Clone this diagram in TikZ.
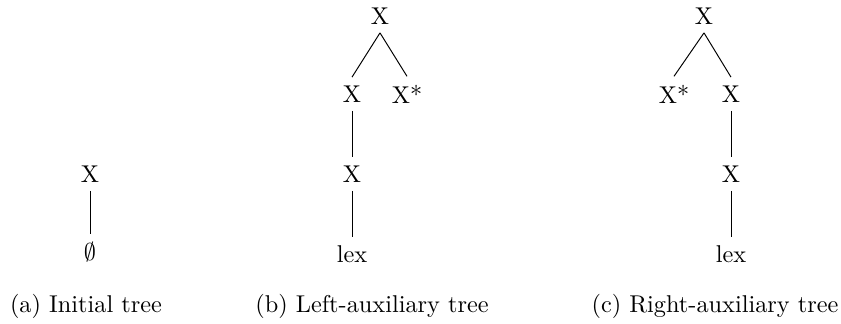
\documentclass[tikz,border=0pt]{standalone}
\begin{document}
\begin{tikzpicture}[x=0.4115pt,y=-0.4115pt,
  lbl/.style={inner sep=3.33pt},
  captext/.style={inner sep=0pt},
  br/.style={line width=0.4pt}]
\useasboundingbox (0,0) rectangle (841,323);
% (a)
\node[lbl] (a1) at (90,174) {X};
\node[lbl] (a2) at (90,252) {$\emptyset$};
\draw[br] (a1.south) -- (a2.north);
\node[captext] (ca) at (86,306) {(a) Initial tree};
% (b)
\node[lbl] (b0) at (380,16) {X};
\node[lbl] (b1) at (352,94) {X};
\node[lbl] (b2) at (407,94) {X*};
\node[lbl] (b3) at (352,174) {X};
\node[lbl] (b4) at (352,254) {lex};
\draw[br] (b0.south) -- (b1.north);
\draw[br] (b0.south) -- (b2.north);
\draw[br] (b1.south) -- (b3.north);
\draw[br] (b3.south) -- (b4.north);
\node[captext] (cb) at (372,306) {(b) Left-auxiliary tree};
% (c)
\node[lbl] (c0) at (704,16) {X};
\node[lbl] (c1) at (674,94) {X*};
\node[lbl] (c2) at (731,94) {X};
\node[lbl] (c3) at (731,174) {X};
\node[lbl] (c4) at (731,254) {lex};
\draw[br] (c0.south) -- (c1.north);
\draw[br] (c0.south) -- (c2.north);
\draw[br] (c2.south) -- (c3.north);
\draw[br] (c3.south) -- (c4.north);
\node[captext] (cc) at (715,306) {(c) Right-auxiliary tree};
\end{tikzpicture}
\end{document}
